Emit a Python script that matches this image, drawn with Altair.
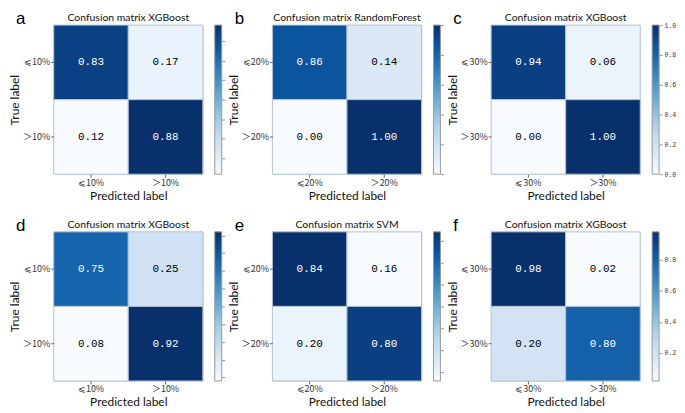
import altair as alt
import numpy as np
import pandas as pd

# ---- data ----
letters = ["a", "b", "c", "d", "e", "f"]
models = ["XGBoost", "RandomForest", "XGBoost", "XGBoost", "SVM", "XGBoost"]
thresholds = ["10%", "20%", "30%", "10%", "20%", "30%"]
matrix_a = [[0.83, 0.17], [0.12, 0.88]]
matrix_b = [[0.86, 0.14], [0.00, 1.00]]
matrix_c = [[0.94, 0.06], [0.00, 1.00]]
matrix_d = [[0.75, 0.25], [0.08, 0.92]]
matrix_e = [[0.84, 0.16], [0.20, 0.80]]
matrix_f = [[0.98, 0.02], [0.20, 0.80]]
matrices = [matrix_a, matrix_b, matrix_c, matrix_d, matrix_e, matrix_f]
# colorbar tick positions and whether their labels are visible
cbar_ticks_a = [0.2, 0.3, 0.4, 0.5, 0.6, 0.7, 0.8]
cbar_ticks_b = [0.0, 0.2, 0.4, 0.6, 0.8, 1.0]
cbar_ticks_c = [0.0, 0.2, 0.4, 0.6, 0.8, 1.0]
cbar_ticks_d = [0.1, 0.2, 0.3, 0.4, 0.5, 0.6, 0.7, 0.8, 0.9]
cbar_ticks_e = [0.2, 0.3, 0.4, 0.5, 0.6, 0.7, 0.8]
cbar_ticks_f = [0.2, 0.4, 0.6, 0.8]
cbar_ticks = [cbar_ticks_a, cbar_ticks_b, cbar_ticks_c,
              cbar_ticks_d, cbar_ticks_e, cbar_ticks_f]
cbar_labels_shown = [False, False, True, False, False, True]

BLUES = ["#f7fbff", "#deebf7", "#c6dbef", "#9ecae1", "#6baed6",
         "#4292c6", "#2171b5", "#08519c", "#08306b"]

W, H = 150, 150
CB_OFFSET, CB_THICK = 12, 7
TITLE_FONT = "Lato"
MONO = "Liberation Mono"
LABEL_FONT = "Noto Sans CJK SC"


def panel(i):
    thr = thresholds[i]
    cats = ["⩽" + thr, "＞" + thr]
    m = matrices[i]
    rows = []
    for r in range(2):
        for c in range(2):
            rows.append({"true": cats[r], "pred": cats[c], "v": m[r][c]})
    df = pd.DataFrame(rows)
    vals = [v for row in m for v in row]
    vmin, vmax = min(vals), max(vals)
    stops = np.linspace(vmin, vmax, len(BLUES)).tolist()
    thresh = vmax / 2.0

    legend = alt.Legend(title=None, orient="none", legendX=W + CB_OFFSET, legendY=0,
                        direction="vertical",
                        gradientLength=H, gradientThickness=CB_THICK,
                        padding=0, labelExpr="''",
                        gradientStrokeColor="#999999", gradientStrokeWidth=1)

    axis_common = dict(domain=False, ticks=True, tickSize=3, tickColor="#666666",
                       labelFont=LABEL_FONT, labelFontSize=9, labelColor="#333333",
                       labelPadding=1, titleFont=TITLE_FONT, titleFontSize=12,
                       titleFontWeight="normal", titleColor="#111111")
    x_enc = alt.X("pred:N", sort=cats, axis=alt.Axis(title="Predicted label",
                                                     labelAngle=0, titlePadding=3,
                                                     **axis_common))
    y_enc = alt.Y("true:N", sort=cats, axis=alt.Axis(title="True label",
                                                     titlePadding=1, **axis_common))

    base = alt.Chart(df)
    rect = base.mark_rect(stroke="#b4c4d6", strokeWidth=1).encode(
        x=x_enc, y=y_enc,
        color=alt.Color("v:Q", scale=alt.Scale(domain=stops, range=BLUES),
                        legend=legend))
    text = base.mark_text(font=MONO, fontSize=11).encode(
        x=alt.X("pred:N", sort=cats), y=alt.Y("true:N", sort=cats),
        text=alt.Text("v:Q", format=".2f"),
        color=alt.condition(f"datum.v > {thresh}", alt.value("white"), alt.value("black")))
    letter = alt.Chart(pd.DataFrame({"t": [letters[i]]})).mark_text(
        font="Liberation Sans", fontSize=17, align="left", baseline="alphabetic",
        color="black").encode(x=alt.value(-38), y=alt.value(-1), text="t:N")
    title = alt.Chart(pd.DataFrame({"t": ["Confusion matrix " + models[i]]})).mark_text(
        font=TITLE_FONT, fontSize=10.5, align="center", baseline="alphabetic",
        color="#111111").encode(x=alt.value(W / 2), y=alt.value(-4), text="t:N")

    show = cbar_labels_shown[i]
    cb_axis = alt.Axis(orient="right", offset=CB_OFFSET + CB_THICK, domain=False,
                       grid=False, title=None, values=cbar_ticks[i], tickSize=3,
                       tickColor="#777777", tickWidth=0.8, labels=show,
                       format=".1f", labelFont=MONO, labelFontSize=6.5,
                       labelColor="#333333", labelPadding=2)
    cbar_ticks_layer = base.mark_point(opacity=0, size=1).encode(
        y=alt.Y("v:Q", scale=alt.Scale(domain=[vmin, vmax], nice=False, zero=False),
                axis=cb_axis))

    inner = alt.layer(rect, text, letter, title)
    return alt.layer(inner, cbar_ticks_layer).resolve_scale(y="independent").properties(
        width=W, height=H)


chart = alt.concat(*[panel(i) for i in range(6)], columns=3,
                   spacing={"row": 58, "column": 70},
                   bounds="flush").resolve_scale(color="independent").properties(
    padding={"left": 0, "top": 0, "right": 0, "bottom": 0}
).configure_view(stroke="#8a8a8a", strokeWidth=1).configure(background="white")

chart.save("out.html", embed_options={"renderer": "svg", "actions": False})
